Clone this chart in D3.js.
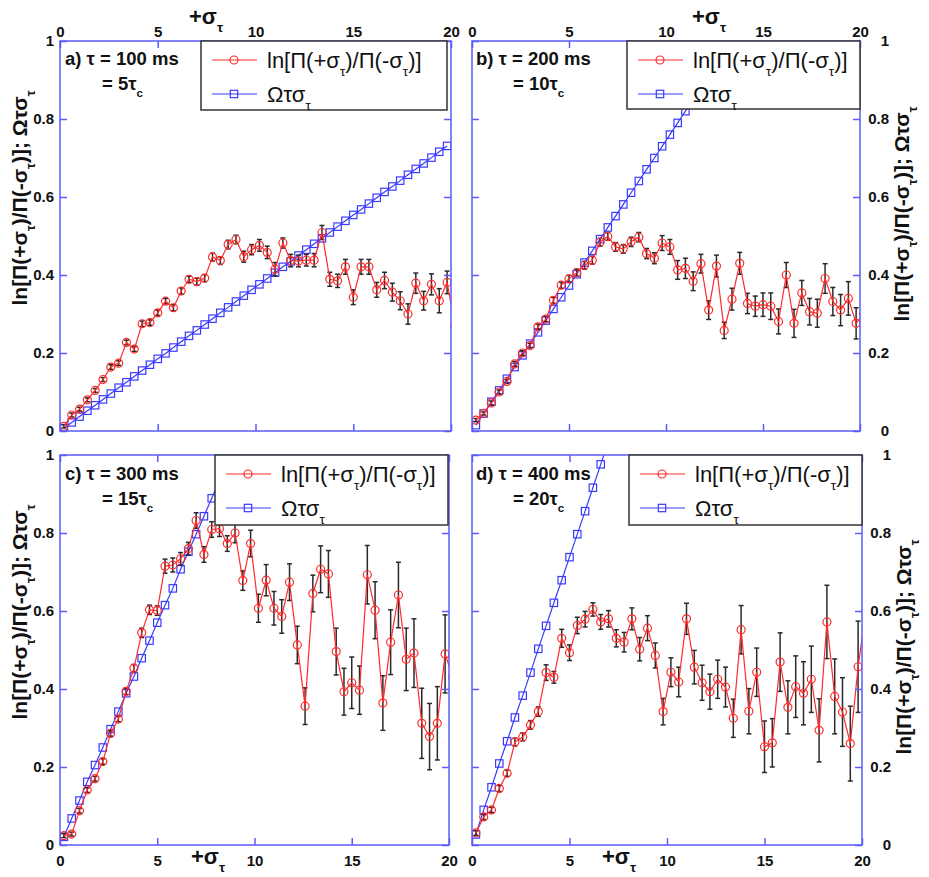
<!DOCTYPE html>
<html>
<head>
<meta charset="utf-8">
<script src="https://cdn.jsdelivr.net/npm/d3@7"></script>
<style>
  body { margin: 0; background: #fff; }
  text { font-family: "Liberation Sans", Arial, sans-serif; }
</style>
</head>
<body>
<div id="chart"></div>
<script>
// sigma grid (last point lies just past the axis and is clipped)
const sigma = [0.2,0.6,1.0,1.4,1.8,2.2,2.6,3.0,3.4,3.8,4.2,4.6,5.0,5.4,5.8,6.2,6.6,7.0,7.4,7.8,
  8.2,8.6,9.0,9.4,9.8,10.2,10.6,11.0,11.4,11.8,12.2,12.6,13.0,13.4,13.8,14.2,14.6,15.0,15.4,15.8,
  16.2,16.6,17.0,17.4,17.8,18.2,18.6,19.0,19.4,19.8,20.2]

// a) tau = 100 ms
const redA = [0.012,0.041,0.056,0.080,0.104,0.132,0.164,0.174,0.227,0.210,0.275,0.278,0.303,0.333,0.316,0.359,0.389,0.383,0.392,0.446,
  0.437,0.478,0.491,0.447,0.465,0.476,0.458,0.415,0.482,0.437,0.436,0.438,0.438,0.509,0.389,0.385,0.421,0.343,0.421,0.421,
  0.362,0.386,0.356,0.334,0.300,0.379,0.334,0.376,0.334,0.381,0.270]
const errA = [0.004,0.005,0.005,0.005,0.005,0.005,0.006,0.006,0.006,0.006,0.007,0.007,0.007,0.007,0.008,0.008,0.008,0.009,0.009,0.010,
  0.010,0.011,0.011,0.014,0.013,0.015,0.016,0.017,0.013,0.016,0.015,0.015,0.017,0.018,0.018,0.017,0.019,0.019,0.019,0.019,
  0.019,0.021,0.023,0.023,0.026,0.026,0.024,0.027,0.031,0.029,0.030]
const blueA = [0.007,0.022,0.037,0.052,0.066,0.081,0.096,0.111,0.125,0.140,0.155,0.170,0.185,0.199,0.214,0.229,0.244,0.258,0.273,0.288,
  0.303,0.317,0.332,0.347,0.362,0.376,0.391,0.406,0.421,0.435,0.450,0.465,0.480,0.494,0.509,0.524,0.539,0.554,0.568,0.583,
  0.598,0.613,0.627,0.642,0.657,0.672,0.686,0.701,0.716,0.731]

// b) tau = 200 ms
const redB = [0.028,0.045,0.072,0.100,0.127,0.172,0.200,0.219,0.267,0.287,0.335,0.374,0.390,0.406,0.425,0.438,0.484,0.499,0.472,0.467,
  0.485,0.497,0.455,0.443,0.482,0.472,0.413,0.417,0.384,0.429,0.310,0.423,0.258,0.338,0.430,0.327,0.320,0.324,0.320,0.281,
  0.400,0.276,0.354,0.306,0.302,0.391,0.332,0.310,0.340,0.276,0.300]
const errB = [0.004,0.004,0.005,0.005,0.005,0.006,0.006,0.006,0.007,0.007,0.008,0.008,0.009,0.009,0.010,0.010,0.010,0.010,0.011,0.011,
  0.012,0.012,0.013,0.014,0.019,0.019,0.024,0.026,0.024,0.024,0.024,0.028,0.021,0.028,0.028,0.026,0.026,0.030,0.034,0.032,
  0.032,0.036,0.032,0.034,0.036,0.038,0.036,0.040,0.043,0.040,0.040]
const blueB = [0.015,0.045,0.075,0.104,0.134,0.164,0.194,0.224,0.253,0.283,0.313,0.343,0.373,0.402,0.432,0.462,0.492,0.522,0.551,0.581,
  0.611,0.641,0.671,0.700,0.730,0.760,0.790,0.820,0.849,0.879,0.909,0.939,0.968,0.998,1.028]

// c) tau = 300 ms
const redC = [0.024,0.028,0.088,0.141,0.170,0.214,0.286,0.323,0.394,0.453,0.544,0.603,0.601,0.715,0.718,0.734,0.760,0.832,0.745,0.809,
  0.811,0.773,0.800,0.678,0.773,0.607,0.679,0.607,0.586,0.674,0.513,0.356,0.645,0.707,0.695,0.496,0.393,0.416,0.397,0.693,
  0.602,0.364,0.520,0.641,0.476,0.492,0.312,0.278,0.312,0.490,0.430]
const errC = [0.005,0.005,0.006,0.006,0.006,0.007,0.007,0.007,0.008,0.010,0.012,0.012,0.012,0.018,0.018,0.016,0.016,0.020,0.020,0.020,
  0.020,0.020,0.025,0.025,0.034,0.036,0.040,0.043,0.043,0.047,0.048,0.047,0.047,0.060,0.060,0.060,0.060,0.066,0.062,0.075,
  0.073,0.070,0.083,0.084,0.080,0.088,0.090,0.085,0.094,0.100,0.100]
const blueC = [0.021,0.068,0.114,0.162,0.205,0.250,0.297,0.342,0.389,0.432,0.479,0.524,0.570,0.615,0.658,0.707,0.752,0.797,0.843,0.889,
  0.935,0.980,1.026]

// d) tau = 400 ms
const redD = [0.031,0.072,0.090,0.145,0.184,0.264,0.277,0.308,0.342,0.442,0.430,0.530,0.493,0.563,0.579,0.604,0.572,0.580,0.530,0.520,
  0.580,0.502,0.556,0.486,0.342,0.443,0.418,0.580,0.456,0.416,0.393,0.425,0.405,0.325,0.552,0.343,0.443,0.252,0.262,0.469,
  0.353,0.406,0.389,0.425,0.294,0.572,0.381,0.341,0.260,0.457,0.600]
const errD = [0.006,0.007,0.007,0.008,0.008,0.010,0.010,0.011,0.012,0.020,0.015,0.023,0.020,0.021,0.020,0.017,0.019,0.021,0.022,0.025,
  0.028,0.030,0.032,0.032,0.034,0.037,0.038,0.040,0.043,0.045,0.045,0.049,0.051,0.049,0.062,0.058,0.062,0.066,0.062,0.075,
  0.068,0.079,0.081,0.085,0.081,0.094,0.096,0.088,0.096,0.117,0.100]
const blueD = [0.027,0.090,0.148,0.209,0.266,0.327,0.383,0.442,0.503,0.562,0.621,0.679,0.738,0.797,0.856,0.916,0.976,1.035]

const xTicks = [0, 5, 10, 15, 20]
const yTicks = [0, 0.2, 0.4, 0.6, 0.8, 1]

const axisColor = "#5b5bff"
const redColor = "#ff2a2a"
const blueColor = "#3a3aff"

const panels = [
  {id: "a", box: [60, 451, 41, 431], xSide: "top", ySide: "left", red: redA, err: errA, blue: blueA,
    tau: "100", n: "5", legend: [201, 41, 246, 69], lab: [65, 65, 102, 90],
    xlab: [189, 24], ylab: [27, 198]},
  {id: "b", box: [472, 860, 41, 431], xSide: "top", ySide: "right", red: redB, err: errB, blue: blueB,
    tau: "200", n: "10", legend: [627, 41, 233, 68], lab: [476, 65, 513, 90],
    xlab: [692, 24], ylab: [909, 214]},
  {id: "c", box: [60, 449, 455, 845], xSide: "bottom", ySide: "left", red: redC, err: errC, blue: blueC,
    tau: "300", n: "15", legend: [215, 455, 233, 70], lab: [65, 480, 102, 505],
    xlab: [191, 864], ylab: [27, 612]},
  {id: "d", box: [472, 862, 455, 845], xSide: "bottom", ySide: "right", red: redD, err: errD, blue: blueD,
    tau: "400", n: "20", legend: [629, 455, 233, 70], lab: [476, 480, 513, 505],
    xlab: [602, 864], ylab: [911, 647]}
]

const svg = d3.select("#chart").append("svg")
  .attr("width", 929)
  .attr("height", 877)

// text with subscripts: parts = [[str, isSub], ...]
function richText(sel, parts, size) {
  let shifted = false
  parts.forEach(([s, sub]) => {
    const t = sel.append("tspan").text(s)
    if (sub && !shifted) { t.attr("font-size", size * 0.62).attr("dy", size * 0.38); shifted = true }
    else if (!sub && shifted) { t.attr("dy", -size * 0.38); shifted = false }
    else if (sub) t.attr("font-size", size * 0.62)
  })
  return sel
}

const legendParts = [
  [["ln[Π(+σ"], ["τ", true], [")/Π(-σ"], ["τ", true], [")]"]],
  [["Ωτσ"], ["τ", true]]
]
const ylabParts = [["ln[Π(+σ"], ["τ", true], [")/Π(-σ"], ["τ", true], [")];  Ωτσ"], ["τ", true]]

panels.forEach(p => {
  const [x0, x1, y0, y1] = p.box
  const x = d3.scaleLinear().domain([0, 20]).range([x0, x1])
  const y = d3.scaleLinear().domain([0, 1]).range([y1, y0])

  svg.append("clipPath").attr("id", "clip-" + p.id)
    .append("rect").attr("x", x0).attr("y", y0).attr("width", x1 - x0).attr("height", y1 - y0)

  const g = svg.append("g").attr("clip-path", `url(#clip-${p.id})`)

  // theory line
  const blueLine = d3.line().x((d, i) => x(sigma[i])).y(d => y(d))
  g.append("path").datum(p.blue)
    .attr("d", blueLine)
    .attr("fill", "none").attr("stroke", blueColor).attr("stroke-width", 1.2)
  g.append("g").selectAll("rect")
    .data(p.blue)
    .join("rect")
      .attr("x", (d, i) => x(sigma[i]) - 3.7)
      .attr("y", d => y(d) - 3.7)
      .attr("width", 7.4).attr("height", 7.4)
      .attr("fill", "none").attr("stroke", blueColor).attr("stroke-width", 1.2)

  // error bars
  const eb = g.append("g").attr("stroke", "#2a2a2a").attr("stroke-width", 1.5)
  eb.selectAll("line.v")
    .data(p.red)
    .join("line").attr("class", "v")
      .attr("x1", (d, i) => x(sigma[i])).attr("x2", (d, i) => x(sigma[i]))
      .attr("y1", (d, i) => y(d - p.err[i])).attr("y2", (d, i) => y(d + p.err[i]))
  ;[-1, 1].forEach(s => {
    eb.selectAll("line.c" + (s > 0 ? "p" : "m"))
      .data(p.red)
      .join("line").attr("class", "c" + (s > 0 ? "p" : "m"))
        .attr("x1", (d, i) => x(sigma[i]) - 2.5).attr("x2", (d, i) => x(sigma[i]) + 2.5)
        .attr("y1", (d, i) => y(d + s * p.err[i])).attr("y2", (d, i) => y(d + s * p.err[i]))
  })

  // measured
  const redLine = d3.line().x((d, i) => x(sigma[i])).y(d => y(d))
  g.append("path").datum(p.red)
    .attr("d", redLine)
    .attr("fill", "none").attr("stroke", redColor).attr("stroke-width", 1.2)
  g.append("g").selectAll("circle")
    .data(p.red)
    .join("circle")
      .attr("cx", (d, i) => x(sigma[i]))
      .attr("cy", d => y(d))
      .attr("r", 4)
      .attr("fill", "none").attr("stroke", redColor).attr("stroke-width", 1.2)

  // axes: labelled side + bare ticks on the opposite side
  const xLab = p.xSide === "top"
    ? d3.axisTop(x).tickPadding(4)
    : d3.axisBottom(x).tickPadding(10)
  const xBare = p.xSide === "top" ? d3.axisBottom(x) : d3.axisTop(x)
  const yLab = p.ySide === "left" ? d3.axisLeft(y) : d3.axisRight(y)
  const yBare = p.ySide === "left" ? d3.axisRight(y) : d3.axisLeft(y)

  const styleAxis = a => a
    .call(g => g.select(".domain").remove())
    .call(g => g.selectAll(".tick line").attr("stroke", axisColor).attr("stroke-width", 1.5))
    .call(g => g.selectAll(".tick text").attr("fill", "#111").attr("font-size", 15)
      .attr("font-weight", "bold").attr("font-family", "'Liberation Sans', Arial, sans-serif"))

  svg.append("g")
    .attr("transform", `translate(0,${p.xSide === "top" ? y0 : y1})`)
    .call(xLab.tickValues(xTicks).tickSizeInner(-7).tickSizeOuter(0).tickFormat(d3.format("d")))
    .call(styleAxis)
  svg.append("g")
    .attr("transform", `translate(0,${p.xSide === "top" ? y1 : y0})`)
    .call(xBare.tickValues(xTicks).tickSizeInner(-7).tickSizeOuter(0).tickFormat(""))
    .call(styleAxis)
  const ya = svg.append("g")
    .attr("transform", `translate(${p.ySide === "left" ? x0 : x1},0)`)
    .call(yLab.tickValues(yTicks).tickSizeInner(-7).tickSizeOuter(0).tickPadding(6)
      .tickFormat(d => d === 0 || d === 1 ? d3.format("d")(d) : d3.format(".1f")(d)))
    .call(styleAxis)
  if (p.ySide === "right") ya.selectAll(".tick text").attr("text-anchor", "end").attr("x", 29)
  svg.append("g")
    .attr("transform", `translate(${p.ySide === "left" ? x1 : x0},0)`)
    .call(yBare.tickValues(yTicks).tickSizeInner(-7).tickSizeOuter(0).tickFormat(""))
    .call(styleAxis)

  svg.append("rect")
    .attr("x", x0).attr("y", y0).attr("width", x1 - x0).attr("height", y1 - y0)
    .attr("fill", "none").attr("stroke", axisColor).attr("stroke-width", 1.5)

  // legend
  const [lx, ly, lw, lh] = p.legend
  const leg = svg.append("g")
  leg.append("rect")
    .attr("x", lx).attr("y", ly).attr("width", lw).attr("height", lh)
    .attr("fill", "#fff").attr("stroke", "#333").attr("stroke-width", 1.5)
  const rows = [ly + 19, ly + 53]
  rows.forEach((ry, k) => {
    const col = k === 0 ? redColor : blueColor
    leg.append("line")
      .attr("x1", lx + 11).attr("x2", lx + 56).attr("y1", ry).attr("y2", ry)
      .attr("stroke", col).attr("stroke-width", 1.2)
    if (k === 0) {
      leg.append("circle").attr("cx", lx + 33).attr("cy", ry).attr("r", 4)
        .attr("fill", "none").attr("stroke", col).attr("stroke-width", 1.2)
    } else {
      leg.append("rect").attr("x", lx + 29.3).attr("y", ry - 3.7).attr("width", 7.4).attr("height", 7.4)
        .attr("fill", "none").attr("stroke", col).attr("stroke-width", 1.2)
    }
    richText(leg.append("text").attr("x", lx + 66).attr("y", ry + 8).attr("font-size", 22).attr("fill", "#111"),
      legendParts[k], 22)
  })

  // panel annotation
  svg.append("text")
    .attr("x", p.lab[0]).attr("y", p.lab[1])
    .attr("font-size", 18.5).attr("font-weight", "bold").attr("fill", "#111")
    .text(`${p.id}) τ = ${p.tau} ms`)
  richText(svg.append("text")
    .attr("x", p.lab[2]).attr("y", p.lab[3])
    .attr("font-size", 18.5).attr("font-weight", "bold").attr("fill", "#111"),
    [[`= ${p.n}τ`], ["c", true]], 18.5)

  // axis titles
  richText(svg.append("text")
    .attr("x", p.xlab[0]).attr("y", p.xlab[1])
    .attr("font-size", 22).attr("font-weight", "bold").attr("fill", "#111"),
    [["+σ"], ["τ", true]], 22)
  richText(svg.append("text")
    .attr("transform", `translate(${p.ylab[0]},${p.ylab[1]}) rotate(-90)`)
    .attr("text-anchor", "middle")
    .attr("font-size", 21).attr("font-weight", "bold").attr("fill", "#111"),
    ylabParts, 21)
})
</script>
</body>
</html>
